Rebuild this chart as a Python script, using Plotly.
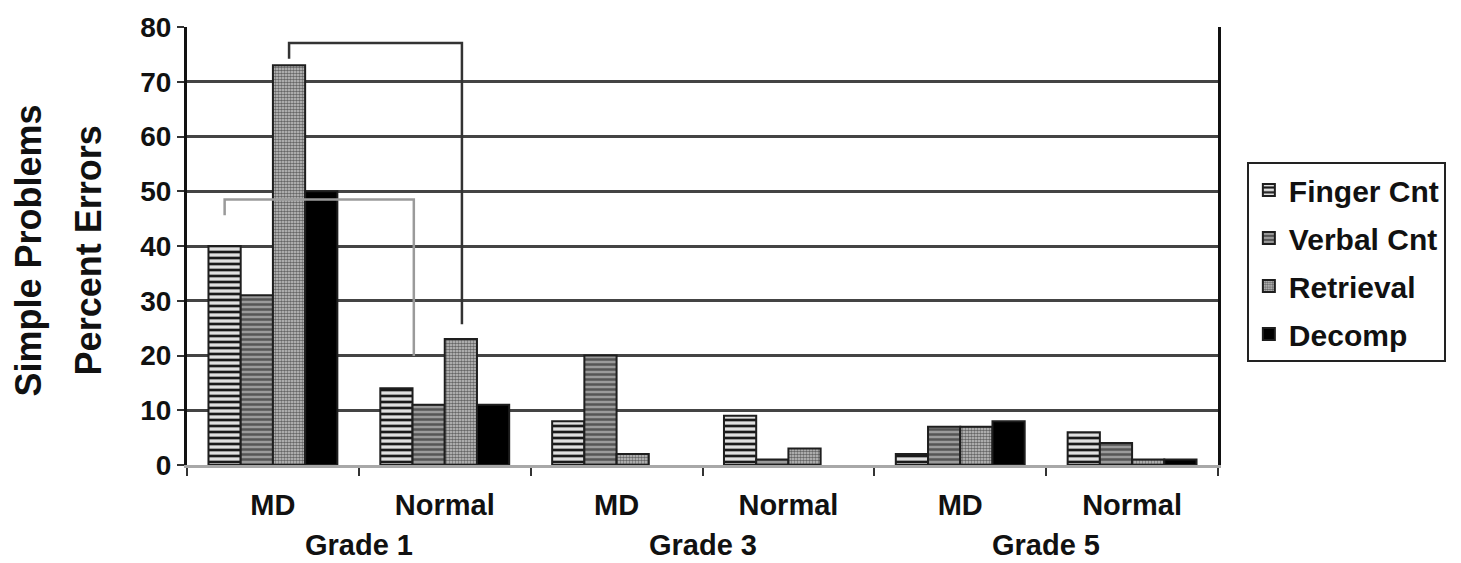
import plotly.graph_objects as go

# ---- data ----
categories = ["MD", "Normal", "MD", "Normal", "MD", "Normal"]
grades = ["Grade 1", "Grade 3", "Grade 5"]
series_names = ["Finger Cnt", "Verbal Cnt", "Retrieval", "Decomp"]
finger = [40, 14, 8, 9, 2, 6]
verbal = [31, 11, 20, 1, 7, 4]
retrieval = [73, 23, 2, 3, 7, 1]
decomp = [50, 11, 0, 0, 8, 1]
y_ticks = [0, 10, 20, 30, 40, 50, 60, 70, 80]

# comparison brackets (data units: category index, percent)
bracket1_x = [-0.281, -0.281, 0.82, 0.82]
bracket1_y = [45.6, 48.5, 48.5, 19.9]
bracket2_x = [0.094, 0.094, 1.10, 1.10]
bracket2_y = [74.2, 77.1, 77.1, 25.7]

FONT = "Liberation Sans, Arial, sans-serif"
xpos = list(range(len(categories)))

styles = [
    dict(pattern=dict(shape="-", bgcolor="#e0e0e0", fgcolor="#1a1a1a", size=6, solidity=0.45, fillmode="replace"), color="#e0e0e0"),
    dict(pattern=dict(shape="-", bgcolor="#9a9a9a", fgcolor="#555555", size=5, solidity=0.5, fillmode="replace"), color="#9a9a9a"),
    dict(pattern=dict(shape=".", bgcolor="#cccccc", fgcolor="#666666", size=3, solidity=0.6, fillmode="replace"), color="#cccccc"),
    dict(color="#000000"),
]

fig = go.Figure()
for k, (name, vals) in enumerate(zip(series_names, [finger, verbal, retrieval, decomp])):
    fig.add_trace(go.Bar(
        x=xpos, y=vals, name=name, legendgroup=name,
        marker=dict(line=dict(color="#1e1e1e", width=[2 if v > 0 else 0 for v in vals]), **styles[k]),
    ))

for bx, by, col in [(bracket1_x, bracket1_y, "#9a9a9a"), (bracket2_x, bracket2_y, "#333333")]:
    fig.add_trace(go.Scatter(x=bx, y=by, mode="lines", line=dict(color=col, width=2.5),
                             showlegend=False, hoverinfo="skip"))

for i, g in enumerate(grades):
    fig.add_annotation(x=2 * i + 0.5, y=-0.183, xref="x", yref="paper", text=g, showarrow=False,
                       yanchor="middle", font=dict(family=FONT, size=29, color="#111", weight="bold"))

for txt, px in [("Simple Problems", -0.154), ("Percent Errors", -0.096)]:
    fig.add_annotation(x=px, y=0.49, xref="paper", yref="paper", text=txt, showarrow=False,
                       textangle=-90, xanchor="center", yanchor="middle",
                       font=dict(family=FONT, size=36, color="#111", weight="bold"))

fig.update_layout(
    width=1461, height=563, autosize=False,
    margin=dict(l=187, r=243, t=23, b=98),
    plot_bgcolor="white", paper_bgcolor="white",
    barmode="group", bargap=0.25, bargroupgap=0,
    font=dict(family=FONT, color="#111"),
    legend=dict(x=1.028, y=0.692, xanchor="left", yanchor="top",
                bordercolor="#222", borderwidth=2, tracegroupgap=6,
                font=dict(family=FONT, size=30, color="#111", weight="bold")),
    showlegend=True,
)
fig.update_xaxes(range=[-0.5, 5.5], tickvals=xpos, ticktext=categories, ticks="",
                 showline=True, linecolor="#a8a8a8", linewidth=3, showgrid=False, zeroline=False,
                 ticklabelstandoff=12,
                 tickfont=dict(family=FONT, size=29, color="#111", weight="bold"),
                 minor=dict(tickvals=[i - 0.5 for i in range(7)], ticks="outside", ticklen=8,
                            tickcolor="#333", tickwidth=2))
fig.update_yaxes(range=[0, 80], tickvals=y_ticks, ticks="outside", ticklen=7, tickcolor="#333", tickwidth=2,
                 showline=True, linecolor="#111", linewidth=3, mirror=True,
                 showgrid=True, gridcolor="#444", gridwidth=2.5, zeroline=False,
                 tickfont=dict(family=FONT, size=28, color="#111", weight="bold"))

fig.write_html("out.html", config={"displayModeBar": False},
               post_script="document.body.style.margin='0';document.body.style.overflow='hidden';")
